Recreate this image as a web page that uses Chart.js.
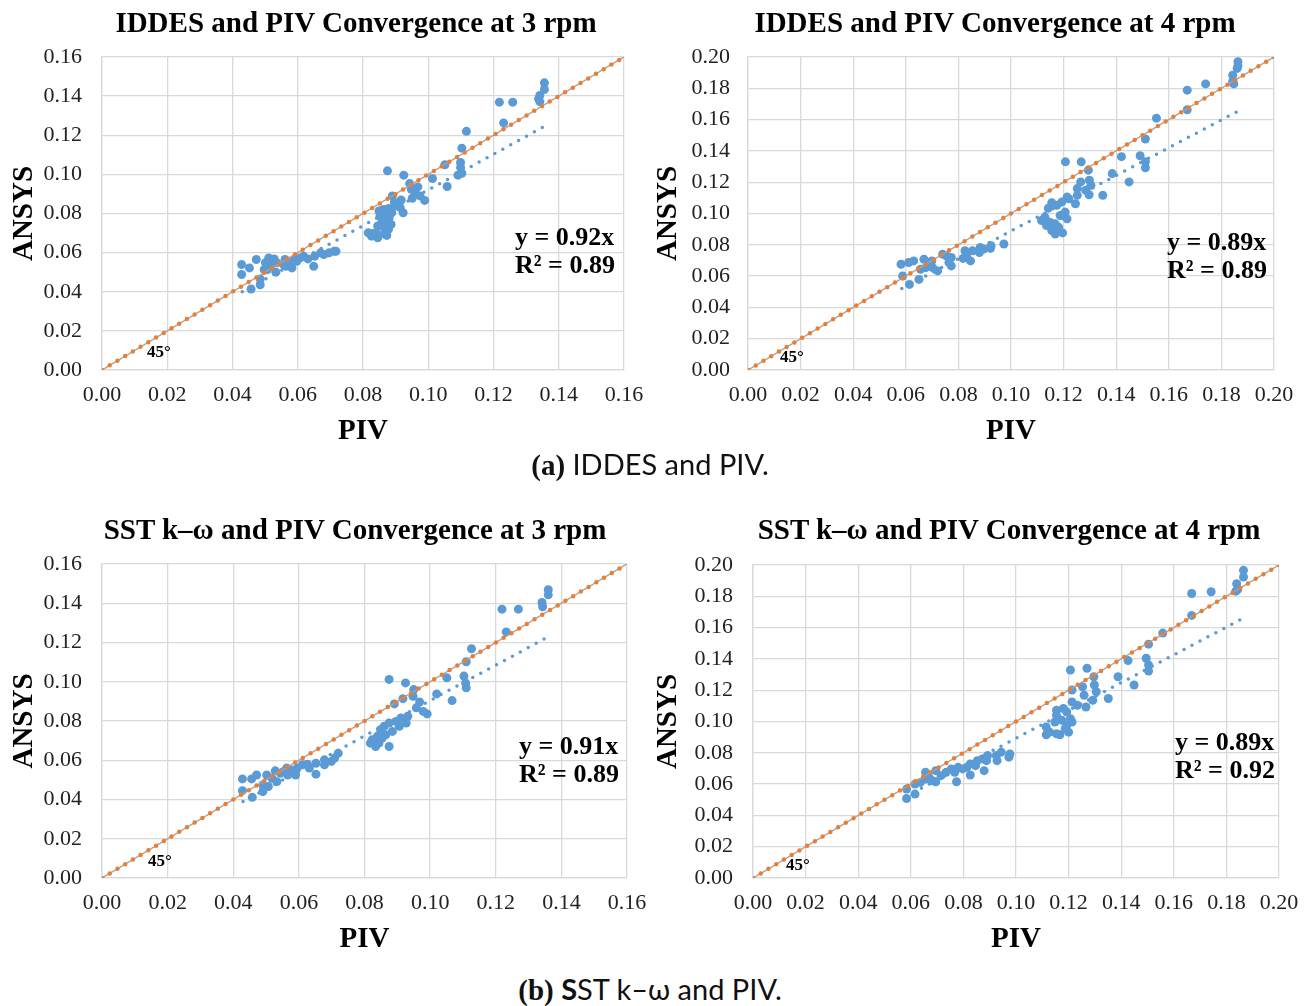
<!DOCTYPE html>
<html>
<head>
<meta charset="utf-8">
<title>ANSYS vs PIV convergence</title>
<script src="https://cdn.jsdelivr.net/npm/chart.js@4.4.1/dist/chart.umd.min.js"></script>
<style>
    html, body { margin: 0; padding: 0; background: #fff; width: 1312px; height: 1006px; overflow: hidden; }
    canvas { position: absolute; }
    .title { position: absolute; width: 800px; text-align: center; font-family: "Liberation Serif", "Times New Roman", serif; font-weight: bold; font-size: 29px; line-height: 34px; color: #000; white-space: nowrap; }
    .caption { position: absolute; left: 0; width: 1300px; text-align: center; font-family: Lato, "Noto Sans", sans-serif; font-size: 29px; color: #111; }
    .caption .p { font-family: "Liberation Serif", serif; font-weight: bold; }
</style>
</head>
<body>
<canvas id="c1" width="712" height="460" style="left:0;top:0"></canvas>
<canvas id="c2" width="690" height="460" style="left:650px;top:0"></canvas>
<canvas id="c3" width="710" height="470" style="left:0;top:500px"></canvas>
<canvas id="c4" width="718" height="470" style="left:650px;top:500px"></canvas>
<div class="title" style="left:-44px;top:5px">IDDES and PIV Convergence at 3 rpm</div>
<div class="title" style="left:595px;top:5px">IDDES and PIV Convergence at 4 rpm</div>
<div class="title" style="left:-45px;top:512px">SST k–ω and PIV Convergence at 3 rpm</div>
<div class="title" style="left:609px;top:512px">SST k–ω and PIV Convergence at 4 rpm</div>
<div class="caption" style="top:446px"><span class="p">(a)</span> IDDES and PIV.</div>
<div class="caption" style="top:971px"><span class="p">(b)</span> <b>S</b>ST k–ω and PIV.</div>

<script>
// Datos (PIV en x, ANSYS en y)

// IDDES, 3 rpm
const iddes3Piv = [0.1356, 0.1356, 0.1342, 0.1338, 0.1342, 0.1218, 0.1259, 0.1231, 0.1117, 0.1103,
    0.1051, 0.1099, 0.1099, 0.1103, 0.1091, 0.1058, 0.1013, 0.0875, 0.0925, 0.0943,
    0.0948, 0.0968, 0.0961, 0.0975, 0.0951, 0.0989, 0.0890, 0.0917, 0.0896, 0.0914,
    0.0923, 0.0899, 0.0878, 0.0863, 0.0849, 0.0888, 0.0867, 0.0852, 0.0880, 0.0873,
    0.0857, 0.0886, 0.0845, 0.0866, 0.0878, 0.0816, 0.0831, 0.0847, 0.0868, 0.0845,
    0.0873, 0.0826,
    0.0428, 0.0452, 0.0473, 0.0428, 0.0457, 0.0485, 0.0485, 0.0501, 0.0507, 0.0528,
    0.0533, 0.0520, 0.0561, 0.0564, 0.0582, 0.0597, 0.0608, 0.0618, 0.0649, 0.0652,
    0.0670, 0.0680, 0.0712, 0.0717, 0.0556, 0.0577, 0.0590, 0.0696, 0.0631, 0.0535,
    0.0497, 0.0511];
const iddes3Ansys = [0.1468, 0.1434, 0.1403, 0.1386, 0.1372, 0.1369, 0.1369, 0.1263, 0.1220, 0.1134,
    0.1049, 0.1061, 0.1035, 0.1006, 0.0996, 0.0938, 0.0979, 0.1018, 0.0996, 0.0953,
    0.0924, 0.0936, 0.0903, 0.0890, 0.0878, 0.0867, 0.0890, 0.0869, 0.0856, 0.0830,
    0.0804, 0.0838, 0.0825, 0.0821, 0.0813, 0.0804, 0.0796, 0.0787, 0.0778, 0.0756,
    0.0753, 0.0744, 0.0736, 0.0727, 0.0719, 0.0701, 0.0698, 0.0693, 0.0693, 0.0676,
    0.0688, 0.0684,
    0.0539, 0.0522, 0.0565, 0.0488, 0.0414, 0.0465, 0.0436, 0.0548, 0.0513, 0.0568,
    0.0500, 0.0539, 0.0565, 0.0530, 0.0522, 0.0556, 0.0573, 0.0582, 0.0530, 0.0582,
    0.0599, 0.0590, 0.0607, 0.0607, 0.0539, 0.0548, 0.0565, 0.0599, 0.0568, 0.0548,
    0.0513, 0.0573];
const iddes3TrendX = [0.043, 0.135];
const iddes3TrendY = [0.040, 0.124];

// IDDES, 4 rpm
const iddes4Piv = [0.1863, 0.1863, 0.1860, 0.1843, 0.1843, 0.1847, 0.1740, 0.1670, 0.1670, 0.1553,
    0.1511, 0.1491, 0.1511, 0.1511, 0.1420, 0.1385, 0.1449, 0.1349, 0.1207, 0.1267,
    0.1294, 0.1265, 0.1298, 0.1304, 0.1252, 0.1284, 0.1297, 0.1252, 0.1213, 0.1245,
    0.1193, 0.1155, 0.1174, 0.1142, 0.1206, 0.1187, 0.1213, 0.1129, 0.1116, 0.1148,
    0.1168, 0.1135, 0.1181, 0.1155, 0.1196, 0.1168, 0.1200, 0.1220,
    0.0973, 0.0924, 0.0922, 0.0883, 0.0880, 0.0854, 0.0825, 0.0831, 0.0846, 0.0818,
    0.0773, 0.0754, 0.0740, 0.0764, 0.0773, 0.0721, 0.0699, 0.0702, 0.0669, 0.0676,
    0.0630, 0.0611, 0.0582, 0.0588, 0.0656, 0.0650, 0.0614, 0.0689, 0.0896];
const iddes4Ansys = [0.1970, 0.1942, 0.1927, 0.1884, 0.1845, 0.1828, 0.1828, 0.1788, 0.1663, 0.1609,
    0.1476, 0.1369, 0.1330, 0.1292, 0.1363, 0.1255, 0.1202, 0.1116, 0.1330, 0.1330,
    0.1277, 0.1202, 0.1213, 0.1180, 0.1159, 0.1148, 0.1120, 0.1116, 0.1105, 0.1062,
    0.1073, 0.1069, 0.1052, 0.1034, 0.1009, 0.0987, 0.0966, 0.0977, 0.0955, 0.0944,
    0.0934, 0.0923, 0.0912, 0.0891, 0.0876, 0.0869, 0.0987, 0.1094,
    0.0805, 0.0794, 0.0777, 0.0783, 0.0751, 0.0762, 0.0762, 0.0725, 0.0697, 0.0713,
    0.0719, 0.0730, 0.0740, 0.0687, 0.0665, 0.0633, 0.0697, 0.0654, 0.0708, 0.0654,
    0.0697, 0.0687, 0.0676, 0.0601, 0.0644, 0.0579, 0.0547, 0.0687, 0.0773];
const iddes4TrendX = [0.0585, 0.187];
const iddes4TrendY = [0.052, 0.166];

// SST k-w, 3 rpm
const sst3Piv = [0.1360, 0.1360, 0.1341, 0.1343, 0.1219, 0.1269, 0.1232, 0.1126, 0.1110, 0.1051,
    0.1103, 0.1108, 0.1110, 0.1067, 0.1020, 0.0875, 0.0925, 0.0950, 0.0948, 0.0968,
    0.0891, 0.0917, 0.0958, 0.0979, 0.0991, 0.0932, 0.0911, 0.0896, 0.0875, 0.0860,
    0.0927, 0.0849, 0.0885, 0.0865, 0.0839, 0.0823, 0.0844, 0.0875, 0.0818, 0.0854,
    0.0834, 0.0906,
    0.0428, 0.0456, 0.0471, 0.0428, 0.0458, 0.0490, 0.0490, 0.0502, 0.0528, 0.0533,
    0.0518, 0.0563, 0.0566, 0.0590, 0.0595, 0.0611, 0.0626, 0.0652, 0.0652, 0.0678,
    0.0678, 0.0709, 0.0720, 0.0575, 0.0544, 0.0632, 0.0699, 0.0507, 0.0554];
const sst3Ansys = [0.1469, 0.1443, 0.1404, 0.1382, 0.1370, 0.1370, 0.1254, 0.1168, 0.1102, 0.1020,
    0.1029, 0.0994, 0.0969, 0.0904, 0.0938, 0.1012, 0.0994, 0.0960, 0.0926, 0.0897,
    0.0887, 0.0914, 0.0867, 0.0849, 0.0836, 0.0824, 0.0815, 0.0798, 0.0790, 0.0773,
    0.0790, 0.0756, 0.0747, 0.0730, 0.0722, 0.0704, 0.0687, 0.0670, 0.0687, 0.0713,
    0.0670, 0.0773,
    0.0505, 0.0505, 0.0525, 0.0445, 0.0411, 0.0440, 0.0474, 0.0525, 0.0546, 0.0491,
    0.0508, 0.0560, 0.0525, 0.0525, 0.0560, 0.0577, 0.0580, 0.0529, 0.0585, 0.0577,
    0.0602, 0.0611, 0.0636, 0.0551, 0.0534, 0.0560, 0.0594, 0.0466, 0.0543];
const sst3TrendX = [0.043, 0.135];
const sst3TrendY = [0.039, 0.122];

// SST k-w, 4 rpm
const sst4Piv = [0.1865, 0.1865, 0.1839, 0.1843, 0.1836, 0.1668, 0.1742, 0.1668, 0.1558, 0.1504,
    0.1495, 0.1504, 0.1504, 0.1426, 0.1388, 0.1449, 0.1351, 0.1207, 0.1270, 0.1296,
    0.1253, 0.1298, 0.1305, 0.1259, 0.1292, 0.1266, 0.1213, 0.1213, 0.1233, 0.1180,
    0.1154, 0.1154, 0.1193, 0.1207, 0.1174, 0.1213, 0.1148, 0.1193, 0.1115, 0.1128,
    0.1154, 0.1200, 0.1167, 0.1115, 0.1187,
    0.0977, 0.0973, 0.0944, 0.0925, 0.0928, 0.0892, 0.0888, 0.0879, 0.0853, 0.0846,
    0.0826, 0.0826, 0.0813, 0.0780, 0.0767, 0.0774, 0.0754, 0.0734, 0.0715, 0.0695,
    0.0695, 0.0656, 0.0656, 0.0636, 0.0616, 0.0584, 0.0584, 0.0616, 0.0669, 0.0682,
    0.0797, 0.0872];
const sst4Ansys = [0.1966, 0.1923, 0.1880, 0.1844, 0.1833, 0.1818, 0.1829, 0.1678, 0.1565, 0.1494,
    0.1404, 0.1361, 0.1323, 0.1389, 0.1286, 0.1233, 0.1147, 0.1329, 0.1340, 0.1286,
    0.1222, 0.1233, 0.1190, 0.1168, 0.1136, 0.1093, 0.1201, 0.1125, 0.1104, 0.1083,
    0.1072, 0.1040, 0.1061, 0.1018, 0.1008, 0.0997, 0.0997, 0.0975, 0.0965, 0.0932,
    0.0922, 0.0932, 0.0915, 0.0915, 0.0954,
    0.0793, 0.0772, 0.0804, 0.0782, 0.0750, 0.0782, 0.0750, 0.0686, 0.0750, 0.0718,
    0.0729, 0.0658, 0.0707, 0.0707, 0.0675, 0.0615, 0.0697, 0.0675, 0.0654, 0.0686,
    0.0615, 0.0675, 0.0632, 0.0611, 0.0600, 0.0568, 0.0508, 0.0536, 0.0643, 0.0622,
    0.0697, 0.0761];
const sst4TrendX = [0.058, 0.1875];
const sst4TrendY = [0.052, 0.167];

// Línea de 45° y rangos de los ejes
const diag3 = [0, 0.16];
const diag4 = [0, 0.20];

const SERIF = '"Liberation Serif", "Times New Roman", serif';

// Textos de la ecuación, R² y 45°
const notesPlugin = {
    id: 'notes',
    afterDatasetsDraw(chart, args, opts) {
        const ctx = chart.ctx;
        ctx.save();
        ctx.fillStyle = '#000';
        ctx.textBaseline = 'middle';
        ctx.textAlign = 'left';
        ctx.font = 'bold 26px ' + SERIF;
        ctx.fillText(opts.eq, opts.x, opts.y1);
        ctx.fillText(opts.r2, opts.x, opts.y2);
        ctx.font = 'bold 17px ' + SERIF;
        ctx.fillText('45°', opts.degX, opts.degY);
        ctx.restore();
    }
};

const toPoints = (xs, ys) => xs.map((x, i) => ({ x: x, y: ys[i] }));

function makeChart(id, cfg) {
    return new Chart(document.getElementById(id), {
        type: 'scatter',
        data: {
            datasets: [
                {
                    type: 'line',
                    data: toPoints(cfg.diag, cfg.diag),
                    borderColor: '#ed7d31',
                    borderWidth: 4.5,
                    borderDash: [0, 9],
                    borderCapStyle: 'round',
                    pointRadius: 0,
                    order: 0
                },
                {
                    type: 'line',
                    data: toPoints(cfg.diag, cfg.diag),
                    borderColor: '#a5a5a5',
                    borderWidth: 1.5,
                    pointRadius: 0,
                    order: 1
                },
                {
                    type: 'line',
                    data: toPoints(cfg.trendX, cfg.trendY),
                    borderColor: '#5b9bd5',
                    borderWidth: 3.5,
                    borderDash: [0, 9],
                    borderCapStyle: 'round',
                    pointRadius: 0,
                    order: 2
                },
                {
                    data: toPoints(cfg.piv, cfg.ansys),
                    backgroundColor: '#5b9bd5',
                    borderWidth: 0,
                    pointRadius: 4.5,
                    order: 3
                }
            ]
        },
        options: {
            responsive: false,
            animation: false,
            layout: { padding: cfg.pad },
            plugins: {
                legend: { display: false },
                tooltip: { enabled: false },
                title: { display: false },
                notes: cfg.notes
            },
            scales: {
                x: {
                    type: 'linear',
                    min: 0,
                    max: cfg.diag[1],
                    ticks: {
                        stepSize: 0.02,
                        autoSkip: false,
                        maxRotation: 0,
                        padding: 12.5,
                        color: '#222',
                        font: { family: SERIF, size: 22 },
                        callback: v => v.toFixed(2)
                    },
                    grid: { color: '#d9d9d9', lineWidth: 1.3, drawTicks: false },
                    border: { color: '#d9d9d9', width: 1.3 },
                    title: {
                        display: true,
                        text: 'PIV',
                        color: '#000',
                        font: { family: SERIF, size: 29, weight: 'bold' },
                        padding: { top: 0, bottom: 0.6 }
                    },
                    afterFit: s => { s.height = 80; }
                },
                y: {
                    type: 'linear',
                    min: 0,
                    max: cfg.diag[1],
                    ticks: {
                        stepSize: 0.02,
                        autoSkip: false,
                        padding: cfg.yTickPad,
                        color: '#222',
                        font: { family: SERIF, size: 22 },
                        callback: v => v.toFixed(2)
                    },
                    grid: { color: '#d9d9d9', lineWidth: 1.3, drawTicks: false },
                    border: { color: '#d9d9d9', width: 1.3 },
                    title: {
                        display: true,
                        text: 'ANSYS',
                        color: '#000',
                        font: { family: SERIF, size: 29, weight: 'bold' },
                        padding: { top: cfg.yTitlePad, bottom: 0 }
                    },
                    afterFit: s => { s.width = cfg.yWidth; }
                }
            }
        },
        plugins: [notesPlugin]
    });
}

makeChart('c1', {
    piv: iddes3Piv, ansys: iddes3Ansys,
    trendX: iddes3TrendX, trendY: iddes3TrendY,
    diag: diag3,
    pad: { left: 0, right: 88, top: 57, bottom: 10 },
    yWidth: 102, yTickPad: 20, yTitlePad: 7.6,
    notes: { eq: 'y = 0.92x', r2: 'R² = 0.89', x: 515, y1: 238, y2: 266, degX: 147, degY: 353 }
});

makeChart('c2', {
    piv: iddes4Piv, ansys: iddes4Ansys,
    trendX: iddes4TrendX, trendY: iddes4TrendY,
    diag: diag4,
    pad: { left: 0, right: 66, top: 57, bottom: 10 },
    yWidth: 98, yTickPad: 18, yTitlePad: 1.6,
    notes: { eq: 'y = 0.89x', r2: 'R² = 0.89', x: 517, y1: 243, y2: 271, degX: 130, degY: 358 }
});

makeChart('c3', {
    piv: sst3Piv, ansys: sst3Ansys,
    trendX: sst3TrendX, trendY: sst3TrendY,
    diag: diag3,
    pad: { left: 0, right: 83, top: 64, bottom: 12 },
    yWidth: 102, yTickPad: 20, yTitlePad: 7,
    notes: { eq: 'y = 0.91x', r2: 'R² = 0.89', x: 519, y1: 247, y2: 275, degX: 148, degY: 362 }
});

makeChart('c4', {
    piv: sst4Piv, ansys: sst4Ansys,
    trendX: sst4TrendX, trendY: sst4TrendY,
    diag: diag4,
    pad: { left: 0, right: 89, top: 65, bottom: 12 },
    yWidth: 103, yTickPad: 20, yTitlePad: 1.1,
    notes: { eq: 'y = 0.89x', r2: 'R² = 0.92', x: 525, y1: 243, y2: 271, degX: 136, degY: 366 }
});
</script>
</body>
</html>
